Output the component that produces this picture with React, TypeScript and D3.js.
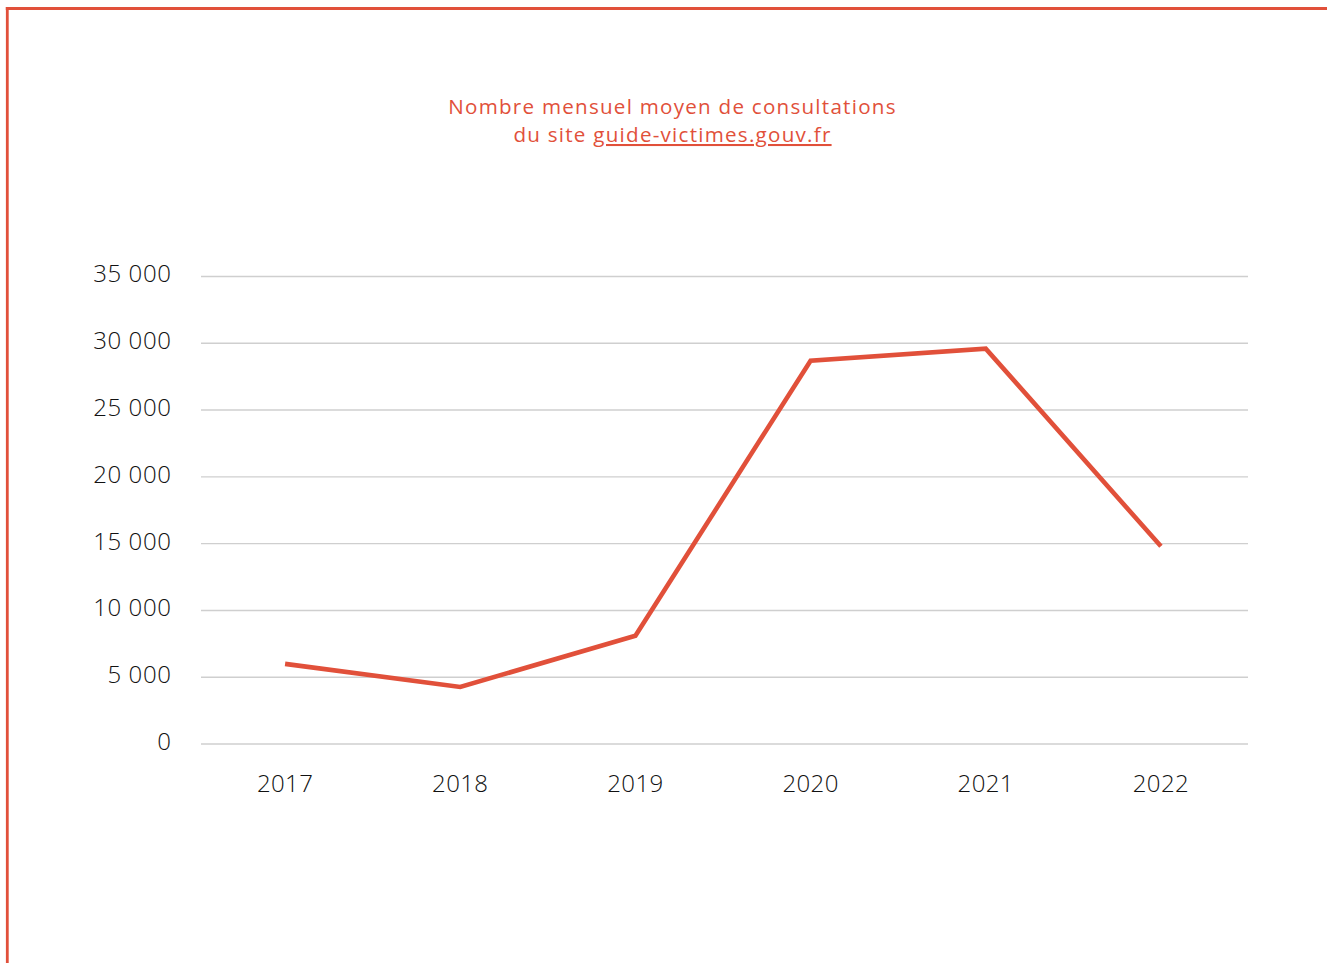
import React from "react";
import * as d3 from "d3";

const years = ["2017", "2018", "2019", "2020", "2021", "2022"];
const consultations = [6000, 4270, 8100, 28700, 29600, 14800];
const yTicks = [0, 5000, 10000, 15000, 20000, 25000, 30000, 35000];
const titleLine1 = "Nombre mensuel moyen de consultations";
const titlePrefix = "du site ";
const titleLink = "guide-victimes.gouv.fr";

const W = 1327;
const H = 963;
const RED = "#E1503A";
const FONT = "'Open Sans', Lato, 'Noto Sans', sans-serif";

export default function App() {
  const x = d3.scalePoint<string>().domain(years).range([197.5, 1248.5]).padding(0.5);
  const y = d3.scaleLinear().domain([0, 35000]).range([744, 276.5]);
  const fmt = d3.formatLocale({ decimal: ",", thousands: " ", grouping: [3], currency: ["", " €"] }).format(",d");
  const line = d3
    .line<number>()
    .x((_, i) => x(years[i]) as number)
    .y((d) => y(d));

  return (
    <svg
      width={W}
      height={H}
      viewBox={`0 0 ${W} ${H}`}
      style={{ position: "absolute", left: 0, top: 0, background: "#fff" }}
    >
      <rect x={0} y={0} width={W} height={H} fill="#fff" />
      {/* frame */}
      <line x1={5.8} x2={W} y1={8.5} y2={8.5} stroke={RED} strokeWidth={3} />
      <line x1={7.3} x2={7.3} y1={7} y2={H} stroke={RED} strokeWidth={2.8} />

      {/* title */}
      <text x={672.5} y={113.5} textAnchor="middle" fill={RED} fontFamily={FONT} fontSize={20.6} fontWeight={500} letterSpacing={1.25}>
        {titleLine1}
      </text>
      <text x={672.5} y={142} textAnchor="middle" fill={RED} fontFamily={FONT} fontSize={20.6} fontWeight={500} letterSpacing={1.25}>
        {titlePrefix}
        <tspan textDecoration="underline">{titleLink}</tspan>
      </text>

      {/* gridlines + y labels */}
      {yTicks.map((t) => (
        <g key={t}>
          <line x1={201} x2={1248} y1={y(t)} y2={y(t)} stroke="#cfcfcf" strokeWidth={1.4} />
          <text
            x={171.5}
            y={y(t) - 2.5}
            dy="0.35em"
            textAnchor="end"
            fill="#111"
            fontFamily={FONT}
            fontSize={24}
            fontWeight={300}
            letterSpacing={0.6}
          >
            {fmt(t)}
          </text>
        </g>
      ))}

      {/* x labels */}
      {years.map((yr) => (
        <text
          key={yr}
          x={x(yr)}
          y={792}
          textAnchor="middle"
          fill="#111"
          fontFamily={FONT}
          fontSize={24}
          fontWeight={300}
          letterSpacing={0.4}
        >
          {yr}
        </text>
      ))}

      {/* series */}
      <path
        d={line(consultations) || ""}
        fill="none"
        stroke={RED}
        strokeWidth={4.6}
        strokeLinejoin="miter"
        strokeLinecap="butt"
      />
    </svg>
  );
}
